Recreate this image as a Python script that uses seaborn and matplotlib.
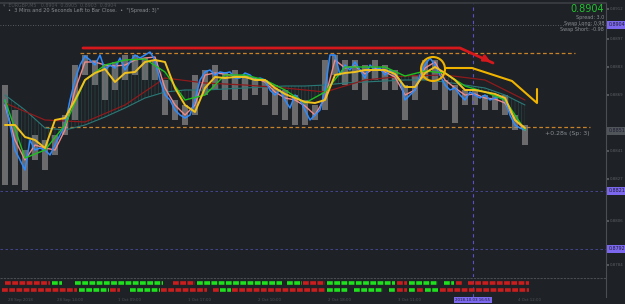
import numpy as np
import pandas as pd
import matplotlib
matplotlib.use("Agg")
import matplotlib.pyplot as plt
from matplotlib.patches import Ellipse
import seaborn as sns

# ---------------- data ----------------
# fast price line (blue), one value per bar
close_blue = [0.88665, 0.8854, 0.88415, 0.88365, 0.88315, 0.88465, 0.88415, 0.88425, 0.88415, 0.8839,
              0.8844, 0.8849, 0.8854, 0.88665, 0.88765, 0.8884, 0.88885, 0.88865, 0.8884, 0.8889,
              0.88815, 0.8884, 0.88825, 0.88875, 0.88815, 0.88855, 0.8889, 0.88875, 0.8889, 0.88905,
              0.88865, 0.88765, 0.8869, 0.88665, 0.88615, 0.8859, 0.88575, 0.8859, 0.88665, 0.88765,
              0.88805, 0.88815, 0.8879, 0.88805, 0.8880, 0.88805, 0.88775, 0.88775, 0.8880, 0.8879,
              0.88765, 0.88775, 0.88765, 0.88715, 0.8869, 0.88715, 0.88665, 0.88625, 0.8869, 0.88665,
              0.88615, 0.88565, 0.8859, 0.88615, 0.88715, 0.8889, 0.8889, 0.8879, 0.8884, 0.88815,
              0.88855, 0.88815, 0.88775, 0.8884, 0.88815, 0.88825, 0.8879, 0.88815, 0.8879, 0.88765,
              0.88665, 0.8869, 0.88715, 0.8879, 0.8884, 0.88875, 0.8884, 0.8879, 0.8874, 0.88715,
              0.88725, 0.8869, 0.88665, 0.88705, 0.8869, 0.88675, 0.8869, 0.88665, 0.88675, 0.8868,
              0.88665, 0.8859, 0.8854, 0.88525, 0.88515]
# pink line, every 2 bars
pink_line = [0.8864, 0.88465, 0.88365, 0.8844, 0.88425, 0.88415, 0.88515, 0.88715, 0.88855, 0.88855,
             0.8884, 0.88835, 0.8884, 0.88865, 0.88875, 0.8888, 0.88725, 0.8864, 0.8859, 0.8864,
             0.8879, 0.8880, 0.88795, 0.88785, 0.88785, 0.88775, 0.88755, 0.88705, 0.88675, 0.88665,
             0.88635, 0.8859, 0.88675, 0.88865, 0.88825, 0.88835, 0.88795, 0.88825, 0.88805, 0.8878,
             0.8869, 0.88715, 0.88825, 0.88855, 0.88765, 0.88725, 0.8869, 0.88695, 0.88675, 0.8867,
             0.8865, 0.88565, 0.88515]
# yellow line, every 2 bars
yellow_line = [0.8854, 0.8854, 0.8848, 0.88465, 0.88425, 0.88565, 0.88575, 0.88665, 0.88765, 0.8880,
               0.8882, 0.88755, 0.8880, 0.88805, 0.88855, 0.88865, 0.88855, 0.88725, 0.8864, 0.88605,
               0.88725, 0.8878, 0.88775, 0.8878, 0.8878, 0.88765, 0.88765, 0.88725, 0.88695, 0.88675,
               0.88655, 0.8865, 0.88665, 0.8879, 0.8880, 0.88805, 0.88815, 0.88815, 0.88815, 0.88795,
               0.8873, 0.8873, 0.8880, 0.8883, 0.8880, 0.88765, 0.88715, 0.88715, 0.88705, 0.88695,
               0.88675, 0.88565, 0.88525]
# green line, every 4 bars
green_line = [0.88665, 0.88375, 0.88415, 0.8854, 0.88765, 0.8884, 0.88865, 0.8887, 0.88805, 0.88665,
              0.8869, 0.8879, 0.8879, 0.88765, 0.88715, 0.8865, 0.88705, 0.8883, 0.8883, 0.8883,
              0.88785, 0.8881, 0.8880, 0.88735, 0.88705, 0.88665, 0.88515]
# slow teal average, every 4 bars
teal_ma = [0.8869, 0.88615, 0.88525, 0.88515, 0.8854, 0.8858, 0.88625, 0.88675, 0.88705, 0.88715,
           0.88715, 0.8872, 0.88725, 0.8873, 0.88735, 0.88735, 0.8874, 0.8875, 0.88755, 0.8876,
           0.88765, 0.88765, 0.88755, 0.8874, 0.88725, 0.8869, 0.8864]
# dark red average, every 8 bars
red_ma = [0.8865, 0.88565, 0.88555, 0.8864, 0.88775, 0.8875, 0.8874, 0.88725, 0.88705, 0.88765,
          0.88785, 0.8879, 0.88765, 0.88665]
# grey candles (every 2 bars): body top / bottom
candle_top = [0.8874, 0.88615, 0.88415, 0.8849, 0.88465, 0.8849, 0.8859, 0.8884, 0.8889, 0.88865,
              0.8884, 0.88855, 0.8889, 0.8889, 0.88875, 0.88865, 0.88765, 0.88665, 0.8864, 0.8879,
              0.88815, 0.8884, 0.88805, 0.88815, 0.8879, 0.88775, 0.88765, 0.8874, 0.88715, 0.8869,
              0.88665, 0.8864, 0.88865, 0.8889, 0.88865, 0.88865, 0.8884, 0.88865, 0.8884, 0.88815,
              0.8874, 0.8879, 0.88865, 0.88865, 0.88765, 0.8874, 0.88715, 0.88715, 0.8869, 0.8869,
              0.8869, 0.8859, 0.8854]
candle_bottom = [0.8824, 0.8824, 0.88215, 0.88365, 0.88315, 0.8839, 0.8849, 0.88565, 0.8879, 0.8874,
                 0.88665, 0.88715, 0.88765, 0.8879, 0.88765, 0.88765, 0.8859, 0.88565, 0.8854, 0.8859,
                 0.8869, 0.88715, 0.88665, 0.88665, 0.88665, 0.8869, 0.8864, 0.8859, 0.88565, 0.8854,
                 0.8854, 0.88565, 0.88615, 0.8879, 0.8874, 0.88715, 0.88665, 0.88765, 0.88715, 0.88715,
                 0.88565, 0.88665, 0.88765, 0.88715, 0.88615, 0.8855, 0.8864, 0.8864, 0.88615, 0.88615,
                 0.8859, 0.88515, 0.8844]
# hand-drawn annotations
red_trend_x = [15.6, 91.0, 97.6]
red_trend_y = [0.88925, 0.88925, 0.8885]
yellow_path_x = [88.0, 93.4, 101.4, 106.4, 106.4]
yellow_path_y = [0.88825, 0.88825, 0.8876, 0.8865, 0.8872]
circle_xy = (85.6, 0.8882)
level_top, level_bottom, level_bid = 0.8890, 0.8853, 0.8904
purple_levels = [0.8821, 0.8792]
vline_bar = 93.6
price_labels = ["0.8904", "0.8851", "0.8821", "0.8792"]
price_label_vals = [0.8904, 0.8851, 0.8821, 0.8792]
# lower signal panel: (start, end, colour) per row
row1 = [(0, 9, "r"), (9.4, 11.4, "g"), (14, 31.6, "g"), (33.6, 38, "r"), (38.4, 55.4, "g"),
        (56.4, 59.4, "g"), (59.6, 64, "r"), (64.4, 78, "g"), (78.4, 80.4, "r"), (80.8, 86.6, "g"),
        (87.8, 89.8, "g"), (90.2, 91.4, "r"), (92.6, 104.8, "r")]
row2 = [(-0.6, 14.4, "r"), (14.8, 20.8, "g"), (21, 23, "r"), (25, 31, "g"), (31.2, 40.4, "r"),
        (41.6, 42.8, "r"), (43, 45.2, "g"), (45.4, 64, "r"), (64.4, 68.6, "g"), (69.8, 75.6, "g"),
        (76.8, 78, "g"), (78.4, 80.4, "r"), (80.8, 82, "g"), (82.4, 83.6, "r"), (84, 86.6, "g"),
        (87, 104.8, "r")]

# ---------------- styling ----------------
BG = "#1e2125"
sns.set_theme(style="dark", rc={"axes.facecolor": BG, "figure.facecolor": BG,
                                 "hatch.linewidth": 0.35})
plt.rcParams["font.family"] = ["DejaVu Sans"]

fig = plt.figure(figsize=(6.25, 3.04), dpi=100)
fig.patch.set_facecolor(BG)
W = 606 / 625
ax = fig.add_axes([0, 1 - 277 / 304, W, 274 / 304])
axb = fig.add_axes([0, 1 - 297 / 304, W, 19 / 304])
XL = (-1, 120.2)
for a in (ax, axb):
    a.set_facecolor(BG)
    a.set_xlim(*XL)
    a.set_xticks([])
    a.grid(False)
    for s in a.spines.values():
        s.set_visible(False)
    a.spines["right"].set_visible(True)
    a.spines["right"].set_color("#4a4e53")
    a.spines["right"].set_linewidth(0.8)
ax.spines["top"].set_visible(True)
ax.spines["top"].set_color("#3a3e43")
ax.set_ylim(0.8778, 0.8915)

# x positions
bx = np.arange(len(close_blue))
x2 = np.arange(len(pink_line)) * 2
x4 = np.arange(len(green_line)) * 4
x8 = np.arange(len(red_ma)) * 8
cx = np.arange(len(candle_top)) * 2

# reference levels
ax.axhline(level_bid, color="#6b6f74", lw=0.6, ls=(0, (1, 2)))
ax.hlines(level_top, 15, 114, color="#c8822a", lw=0.9, ls=(0, (3, 2)))
ax.hlines(level_bottom, 8, 117, color="#c8822a", lw=0.9, ls=(0, (3, 2)))
for lv in purple_levels:
    ax.axhline(lv, color="#4a4aa0", lw=0.6, ls=(0, (3, 3)))

# candles
c_top = np.array(candle_top)
c_bot = np.array(candle_bottom)
ax.bar(cx, c_top - c_bot, bottom=c_bot, width=1.15, color="#8c8c8c", alpha=0.7, lw=0, zorder=2)

# ribbon between fast green and slow teal
ax.fill_between(x4, green_line, teal_ma, facecolor="none", edgecolor="#2f6f69",
                hatch="|||||", lw=0, alpha=0.7, zorder=2)

df_blue = pd.DataFrame({"bar": bx, "price": close_blue})
df_pink = pd.DataFrame({"bar": x2, "price": pink_line})
df_yel = pd.DataFrame({"bar": x2, "price": yellow_line})
df_grn = pd.DataFrame({"bar": x4, "price": green_line})
df_teal = pd.DataFrame({"bar": x4, "price": teal_ma})
df_red = pd.DataFrame({"bar": x8, "price": red_ma})

common = dict(x="bar", y="price", ax=ax, legend=False, errorbar=None)
sns.lineplot(data=df_teal, color="#2a7a78", linewidth=0.8, zorder=3, **common)
sns.lineplot(data=df_red, color="#8e1a1c", linewidth=0.9, zorder=3, **common)
sns.lineplot(data=df_pink, color="#f08a8a", linewidth=1.0, zorder=4, **common)
sns.lineplot(data=df_blue, color="#2e8cff", linewidth=1.1, zorder=5, **common)
sns.lineplot(data=df_grn, color="#20c020", linewidth=1.0, zorder=6, **common)
sns.lineplot(data=df_yel, color="#f2c21c", linewidth=1.4, zorder=7, **common)
ax.set_xlabel("")
ax.set_ylabel("")

# hand-drawn red trend line with arrow
ax.plot(red_trend_x, red_trend_y, color="#d4181c", lw=2.0, zorder=8, solid_capstyle="round")
ax.annotate("", xy=(red_trend_x[-1], red_trend_y[-1]),
            xytext=(red_trend_x[-2] + 4.5, red_trend_y[-2] - 0.00048),
            arrowprops=dict(arrowstyle="-|>", color="#d4181c", lw=2.0, mutation_scale=9), zorder=8)
# yellow circle and projection path
ax.add_patch(Ellipse(circle_xy, width=4.8, height=0.0012, fill=False, ec="#f0b400", lw=1.5, zorder=9))
ax.plot(yellow_path_x, yellow_path_y, color="#f0b400", lw=1.5, zorder=9)

# vertical purple marker
for a in (ax, axb):
    a.axvline(vline_bar, color="#5a4fc8", lw=0.8, ls=(0, (3, 3)))

# right axis tiny ticks / labels
ax.yaxis.tick_right()
ax.set_yticks([0.8912, 0.8897, 0.8883, 0.8869, 0.8841, 0.8827, 0.8806, 0.8784])
ax.tick_params(axis="y", labelsize=2.8, colors="#5c6166", length=2, pad=1)
for lab, val in zip(price_labels, price_label_vals):
    fc = "#7b68ee" if lab != "0.8851" else "#50555a"
    ax.text(1.004, val, lab, transform=ax.get_yaxis_transform(), fontsize=3.4, color="#1c1c30",
            va="center", ha="left", clip_on=False, zorder=10,
            bbox=dict(boxstyle="square,pad=0.25", fc=fc, ec="none"))
ax.vlines(120.2, 0.8792, 0.8816, color="#c86428", lw=0.7, ls=(0, (1, 1)))

# texts
fig.text(604 / 625, 1 - 9.5 / 304, "0.8904", color="#22c030", fontsize=7, ha="right", va="center")
fig.text(604 / 625, 1 - 18 / 304, "Spread: 3.0", color="#8a8f95", fontsize=3.5, ha="right", va="center")
fig.text(604 / 625, 1 - 23.8 / 304, "Swap Long: 0.98", color="#8a8f95", fontsize=3.5, ha="right", va="center")
fig.text(604 / 625, 1 - 29.4 / 304, "Swap Short: -0.98", color="#8a8f95", fontsize=3.5, ha="right", va="center")
fig.text(3 / 625, 1 - 5 / 304, "\u25be  EURGBP,M5   0.8904  0.8905  0.8903  0.8904", color="#4e5358",
         fontsize=3.4, ha="left", va="center")
fig.text(8 / 625, 1 - 10.5 / 304, "\u2022  3 Mins and 20 Seconds Left to Bar Close.  \u2022  \"(Spread: 3)\"",
         color="#8a8f95", fontsize=3.6, ha="left", va="center")
ax.text(112.4, 0.88495, "+0.28s (Sp: 3)", color="#8a8f95", fontsize=4.4, ha="center", va="center")

# lower signal panel
axb.set_ylim(0, 1)
axb.set_yticks([])
axb.axhline(1.0, color="#4a4e53", lw=0.8, ls=(0, (2, 1)))
cmap = {"r": "#c81e1e", "g": "#1ee01e"}
for yrow, segs in ((0.74, row1), (0.37, row2)):
    for s, e, c in segs:
        axb.hlines(yrow, s, e, color=cmap[c], lw=2.6, ls=(0, (1.6, 0.4)))

# bottom time labels
for xp, t in [(20, "28 Sep 2018"), (70, "28 Sep 14:00"), (130, "1 Oct 09:00"), (200, "1 Oct 17:00"),
              (270, "2 Oct 10:00"), (340, "2 Oct 18:00"), (410, "3 Oct 11:00"), (530, "4 Oct 12:00")]:
    fig.text(xp / 625, 1 - 300 / 304, t, color="#4e5358", fontsize=2.8, ha="center", va="center")
fig.text(473 / 625, 1 - 300 / 304, "2018.10.03 16:55", color="#1c1c30", fontsize=2.9, ha="center",
         va="center", bbox=dict(boxstyle="square,pad=0.25", fc="#7b68ee", ec="none"))

fig.savefig("out.png", dpi=100, facecolor=BG)
